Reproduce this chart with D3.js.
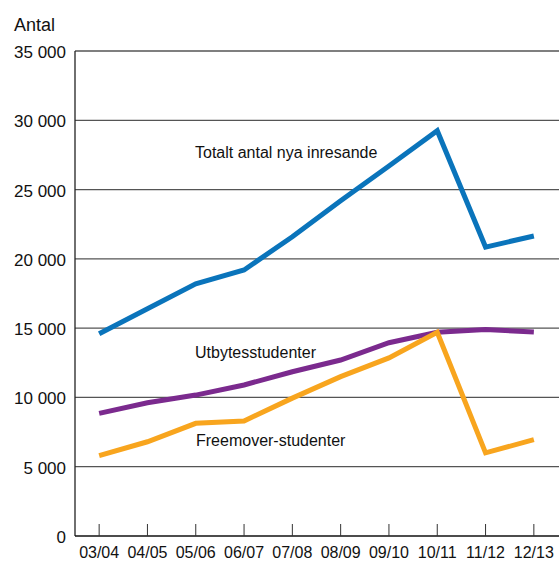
<!DOCTYPE html>
<html>
<head>
<meta charset="utf-8">
<script src="https://cdn.jsdelivr.net/npm/d3@7"></script>
<style>
  body { margin: 0; background: #fff; }
  svg text { font-family: "Liberation Sans", Arial, Helvetica, sans-serif; fill: #111; }
</style>
</head>
<body>
<svg id="chart" width="559" height="561"></svg>
<script>
// data
var years = ["03/04", "04/05", "05/06", "06/07", "07/08", "08/09", "09/10", "10/11", "11/12", "12/13"];
var totalt = [14600, 16400, 18200, 19200, 21600, 24200, 26700, 29250, 20850, 21650];
var utbyte = [8850, 9620, 10170, 10900, 11850, 12700, 13950, 14700, 14900, 14720];
var freemover = [5800, 6800, 8130, 8300, 9950, 11500, 12850, 14700, 6000, 6950];
var yTicks = [0, 5000, 10000, 15000, 20000, 25000, 30000, 35000];

var series = [
  {name: "Totalt antal nya inresande", values: totalt, color: "#0a74bb", lx: 195, ly: 158},
  {name: "Utbytesstudenter", values: utbyte, color: "#7b2a8e", lx: 195, ly: 358},
  {name: "Freemover-studenter", values: freemover, color: "#f8a51e", lx: 196, ly: 446}
];

var sv = d3.select("#chart"),
    pl = 75, pr = 558, pt = 51, pb = 536,
    fs = "16px";

var x = d3.scalePoint().domain(years).range([pl, pr]).padding(0.5);
var y = d3.scaleLinear().domain([0, 35000]).range([pb, pt]);

function fmt(v) {
  return d3.format(",")(v).replace(/,/g, " ");
}

// gridlines
sv.append("g")
  .selectAll("line")
  .data(yTicks.slice(1))
  .enter().append("line")
    .attr("x1", pl).attr("x2", 559)
    .attr("y1", function(d) { return y(d); })
    .attr("y2", function(d) { return y(d); })
    .style("stroke", "#555")
    .style("stroke-width", 1.3);

// y labels
sv.append("g")
  .selectAll("text")
  .data(yTicks)
  .enter().append("text")
    .attr("x", 66)
    .attr("y", function(d) { return y(d) + 7; })
    .attr("text-anchor", "end")
    .style("font-size", "17px")
    .text(fmt);

sv.append("text")
  .attr("x", 14).attr("y", 31)
  .style("font-size", "18px")
  .text("Antal");

// axes lines
sv.append("line")
  .attr("x1", pl).attr("x2", pl).attr("y1", pt).attr("y2", pb)
  .style("stroke", "#222").style("stroke-width", 1.3);
sv.append("line")
  .attr("x1", pl).attr("x2", 559).attr("y1", pb).attr("y2", pb)
  .style("stroke", "#111").style("stroke-width", 1.5);

// x ticks (pointing up) and labels
var xg = sv.append("g");
xg.selectAll("line")
  .data(years)
  .enter().append("line")
    .attr("x1", function(d) { return x(d); })
    .attr("x2", function(d) { return x(d); })
    .attr("y1", pb - 12).attr("y2", pb)
    .style("stroke", "#333").style("stroke-width", 1);
xg.selectAll("text")
  .data(years)
  .enter().append("text")
    .attr("x", function(d) { return x(d); })
    .attr("y", 558)
    .attr("text-anchor", "middle")
    .style("font-size", fs)
    .text(function(d) { return d; });

// lines
var line = d3.line()
  .x(function(d, i) { return x(years[i]); })
  .y(function(d) { return y(d); });

series.forEach(function(s) {
  sv.append("path")
    .datum(s.values)
    .attr("d", line)
    .style("fill", "none")
    .style("stroke", s.color)
    .style("stroke-width", 5)
    .style("stroke-linejoin", "miter")
    .style("stroke-linecap", "butt");
  sv.append("text")
    .attr("x", s.lx).attr("y", s.ly)
    .style("font-size", fs)
    .text(s.name);
});
</script>
</body>
</html>
